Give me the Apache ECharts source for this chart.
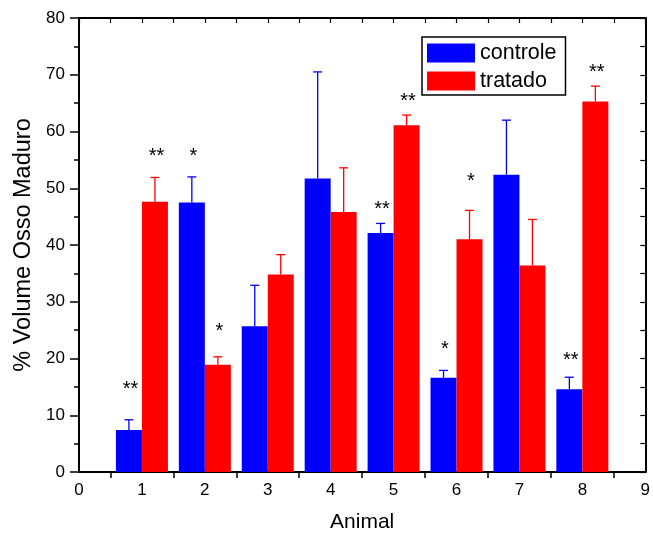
<!DOCTYPE html>
<html><head><meta charset="utf-8">
<script src="https://cdn.jsdelivr.net/npm/echarts@6/dist/echarts.min.js"></script>
<style>html,body{margin:0;padding:0;background:#fff}#c{width:653px;height:538px}</style>
</head><body><div id="c"></div>
<script>
const xLabels = ['0','1','2','3','4','5','6','7','8','9'];
const animals = [1, 2, 3, 4, 5, 6, 7, 8];
const controle    = [7.4, 47.5, 25.7, 51.7, 42.1, 16.6, 52.4, 14.6];
const controleErr = [1.8, 4.5, 7.2, 18.8, 1.7, 1.3, 9.6, 2.1];
const tratado     = [47.6, 18.9, 34.8, 45.8, 61.1, 41.0, 36.4, 65.3];
const tratadoErr  = [4.3, 1.4, 3.5, 7.8, 1.8, 5.1, 8.1, 2.7];
const controleStars = ['**', '*', '', '', '**', '*', '', '**'];
const controleStarY = [15.5, 56.4, null, null, 47.1, 22.5, null, 20.6];
const tratadoStars  = ['**', '*', '', '', '**', '*', '', '**'];
const tratadoStarY  = [56.4, 25.7, null, null, 66.2, 52.1, null, 71.2];
const seriesNames = ['controle', 'tratado'];
const yTitle = '% Volume Osso Maduro';
const xTitle = 'Animal';

const FONT = 'Liberation Sans, Arial, sans-serif';
const BLUE = '#0000ff', RED = '#ff0000';
const BAR_W = 26;

const halfTickCats = xLabels.slice(1).map(l => 'h' + l);
const topTickCats = [];
xLabels.forEach((l, i) => { topTickCats.push('t' + l); if (i < xLabels.length - 1) topTickCats.push('t' + l + '.5'); });

function errSeries(name, vals, errs, side, color) {
  return {
    type: 'custom', name: name + ' err', xAxisIndex: 0, yAxisIndex: 0, z: 5,
    data: vals.map((v, i) => [animals[i], v, errs[i]]),
    encode: { x: 0, y: 1 },
    renderItem: function (params, api) {
      const x = api.value(0), v = api.value(1), e = api.value(2);
      const p0 = api.coord([x, v]);
      const p1 = api.coord([x, v + e]);
      const cx = p0[0] + side * BAR_W / 2;
      const style = { stroke: color, lineWidth: 1.3 };
      return {
        type: 'group', children: [
          { type: 'line', shape: { x1: cx, y1: p0[1], x2: cx, y2: p1[1] }, style: style },
          { type: 'line', shape: { x1: cx - 4.5, y1: p1[1], x2: cx + 4.5, y2: p1[1] }, style: style }
        ]
      };
    }
  };
}

function starSeries(name, stars, ys, side) {
  const shown = stars.filter(s => s);
  return {
    type: 'custom', name: name + ' stars', xAxisIndex: 0, yAxisIndex: 0, z: 6,
    data: stars.map((s, i) => [animals[i], ys[i] == null ? 0 : ys[i], s]).filter(d => d[2]),
    encode: { x: 0, y: 1 },
    renderItem: function (params, api) {
      const x = api.value(0), y = api.value(1);
      const txt = shown[params.dataIndex];
      const p = api.coord([x, y]);
      return {
        type: 'text',
        style: { text: txt, x: p[0] + side * BAR_W / 2 + 1.5, y: p[1] + 5, fill: '#000',
                 font: '20px ' + FONT, align: 'center', verticalAlign: 'middle' }
      };
    }
  };
}

const chart = echarts.init(document.getElementById('c'), null, { renderer: 'canvas' });
chart.setOption({
  animation: false,
  backgroundColor: '#fff',
  textStyle: { fontFamily: FONT },
  grid: { left: 79, right: 7, top: 18, bottom: 65, containLabel: false },
  legend: {
    data: seriesNames, orient: 'vertical', left: 422, top: 37,
    itemWidth: 48, itemHeight: 19, itemGap: 6, icon: 'rect',
    borderColor: '#000', borderWidth: 1.5, padding: [5, 9, 3, 5],
    backgroundColor: '#fff',
    textStyle: { fontSize: 21.5, color: '#000', lineHeight: 21, fontFamily: FONT }
  },
  xAxis: [
    {
      type: 'category', data: xLabels, boundaryGap: false, position: 'bottom',
      axisLine: { show: true, lineStyle: { color: '#000', width: 2 } },
      axisTick: { show: false },
      axisLabel: { color: '#000', fontSize: 17, margin: 10, fontFamily: FONT, interval: 0 },
      splitLine: { show: false },
      name: xTitle, nameLocation: 'middle', nameGap: 40,
      nameTextStyle: { fontSize: 21, color: '#000', fontFamily: FONT }
    },
    {
      type: 'category', data: halfTickCats, boundaryGap: true, position: 'bottom',
      axisLine: { show: false },
      axisTick: { show: true, alignWithLabel: true, interval: 0, length: 6, lineStyle: { color: '#000', width: 1.5 } },
      axisLabel: { show: false, interval: 0 },
      splitLine: { show: false }
    },
    {
      type: 'category', data: topTickCats, boundaryGap: false, position: 'top',
      axisLine: { show: true, lineStyle: { color: '#000', width: 2 } },
      axisTick: { show: true, inside: true, interval: 0, length: 5, lineStyle: { color: '#000', width: 1.2 } },
      axisLabel: { show: false, interval: 0 },
      splitLine: { show: false }
    }
  ],
  yAxis: [
    {
      type: 'value', min: 0, max: 80, interval: 10, position: 'left',
      axisLine: { show: true, lineStyle: { color: '#000', width: 2 } },
      axisTick: { show: true, length: 9, lineStyle: { color: '#000', width: 1.5 } },
      minorTick: { show: true, splitNumber: 2, length: 5, lineStyle: { color: '#000', width: 1.5 } },
      axisLabel: { color: '#000', fontSize: 17, margin: 14, fontFamily: FONT },
      splitLine: { show: false }, minorSplitLine: { show: false },
      name: yTitle, nameLocation: 'middle', nameGap: 42,
      nameTextStyle: { fontSize: 23.5, color: '#000', fontFamily: FONT }
    },
    {
      type: 'value', min: 0, max: 80, interval: 5, position: 'right',
      axisLine: { show: true, lineStyle: { color: '#000', width: 2 } },
      axisTick: { show: true, inside: true, length: 5, lineStyle: { color: '#000', width: 1.2 } },
      axisLabel: { show: false },
      splitLine: { show: false }
    }
  ],
  series: [
    { type: 'bar', name: seriesNames[0], xAxisIndex: 0, yAxisIndex: 0, barWidth: BAR_W, barGap: '0%',
      itemStyle: { color: BLUE, borderWidth: 0 }, data: controle.map((v, i) => [animals[i], v]) },
    { type: 'bar', name: seriesNames[1], xAxisIndex: 0, yAxisIndex: 0, barWidth: BAR_W, barGap: '0%',
      itemStyle: { color: RED, borderWidth: 0 }, data: tratado.map((v, i) => [animals[i], v]) },
    errSeries(seriesNames[0], controle, controleErr, -1, BLUE),
    errSeries(seriesNames[1], tratado, tratadoErr, 1, RED),
    starSeries(seriesNames[0], controleStars, controleStarY, -1),
    starSeries(seriesNames[1], tratadoStars, tratadoStarY, 1)
  ]
});
</script>
</body></html>
